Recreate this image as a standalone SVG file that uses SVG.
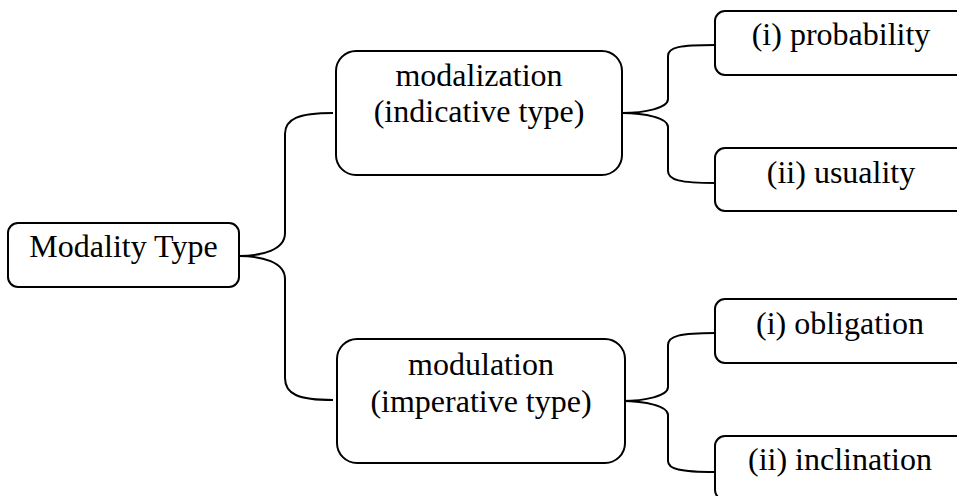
<svg xmlns="http://www.w3.org/2000/svg" width="957" height="496" viewBox="0 0 957 496">
<style>
  .box { fill: #ffffff; stroke: #000000; stroke-width: 2; }
  .lbl { font-family: "Liberation Serif", "Times New Roman", serif; font-size: 32px; fill: #000000; text-anchor: middle; }
  .conn { fill: none; stroke: #000000; stroke-width: 2; }
</style>
<rect x="0" y="0" width="957" height="496" fill="#ffffff"/>
<g id="connectors">
  <path class="conn" d="M239,256 C262,256 285,250 285,233 L285,134 C285,119 298,113 333,113"/>
  <path class="conn" d="M239,256 C262,256 285,262 285,279 L285,378 C285,394 298,400 333,400"/>
  <path class="conn" d="M622,113 C645,113 668,108 668,99 L668,56 C668,47 680,45 715,45"/>
  <path class="conn" d="M622,113 C645,113 668,118 668,127 L668,171 C668,180 680,183 715,183"/>
  <path class="conn" d="M622,401 C645,401 668,396 668,387 L668,345 C668,336 680,333 715,333"/>
  <path class="conn" d="M622,401 C645,401 668,406 668,415 L668,461 C668,469 680,472 715,472"/>
</g>
<g id="node-modality-type">
  <rect class="box" x="8" y="223" width="231" height="64" rx="10" ry="10"/>
  <text class="lbl" x="123.5" y="257">Modality Type</text>
</g>
<g id="node-modalization">
  <rect class="box" x="336" y="51" width="286" height="124" rx="20" ry="20"/>
  <text class="lbl" x="479" y="86">modalization</text>
  <text class="lbl" x="479" y="122">(indicative type)</text>
</g>
<g id="node-modulation">
  <rect class="box" x="337" y="339" width="288" height="124" rx="20" ry="20"/>
  <text class="lbl" x="481" y="375">modulation</text>
  <text class="lbl" x="481" y="412">(imperative type)</text>
</g>
<g id="node-probability">
  <rect class="box" x="715" y="11" width="252" height="64" rx="10" ry="10"/>
  <text class="lbl" x="841" y="45">(i) probability</text>
</g>
<g id="node-usuality">
  <rect class="box" x="715" y="148" width="252" height="63" rx="10" ry="10"/>
  <text class="lbl" x="841" y="183">(ii) usuality</text>
</g>
<g id="node-obligation">
  <rect class="box" x="715" y="299" width="252" height="64" rx="10" ry="10"/>
  <text class="lbl" x="840" y="334">(i) obligation</text>
</g>
<g id="node-inclination">
  <rect class="box" x="715" y="436" width="252" height="64" rx="10" ry="10"/>
  <text class="lbl" x="840" y="470">(ii) inclination</text>
</g>
</svg>
